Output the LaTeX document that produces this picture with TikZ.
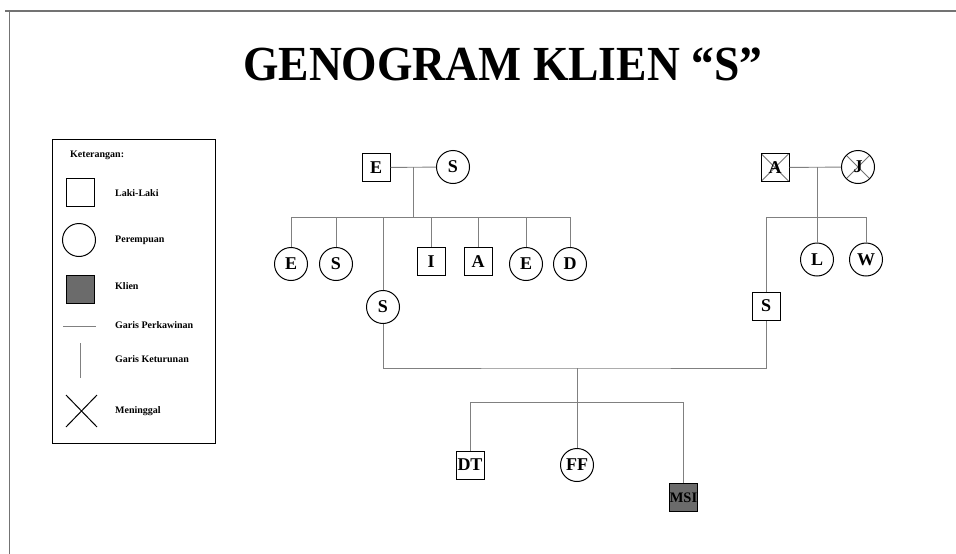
\documentclass[tikz,border=0pt]{standalone}
\usepackage{fontspec}
\setmainfont{Liberation Serif}
\usepackage{graphicx}
\begin{document}
\begin{tikzpicture}[x=1pt,y=-1pt,
  male/.style={draw=black,line width=1pt,rectangle,minimum size=28pt,inner sep=0pt,font=\fontsize{18}{18}\selectfont\bfseries},
  female/.style={draw=black,line width=1pt,circle,minimum size=33pt,inner sep=0pt,font=\fontsize{18}{18}\selectfont\bfseries},
  client/.style={male,fill=black!58},
  dead/.style={path picture={\draw[black!55,line width=0.8pt]
      (path picture bounding box.north west) -- (path picture bounding box.south east)
      (path picture bounding box.north east) -- (path picture bounding box.south west);}},
  deadc/.style={path picture={\draw[black!55,line width=0.8pt]
      ([shift={(-11.7pt,11.7pt)}]path picture bounding box.center) -- ([shift={(11.7pt,-11.7pt)}]path picture bounding box.center)
      ([shift={(11.7pt,11.7pt)}]path picture bounding box.center) -- ([shift={(-11.7pt,-11.7pt)}]path picture bounding box.center);}},
  conn/.style={draw=black!50,line width=0.9pt},
  lbl/.style={anchor=west,inner sep=0pt,font=\fontsize{10}{10}\selectfont\bfseries},
]
\useasboundingbox (0,0) rectangle (956,554);
\fill[white] (0,0) rectangle (956,554);
% frame
\draw[black!55,line width=2pt] (5,11) -- (956,11);
\draw[black!55,line width=1.6pt] (9.5,11) -- (9.5,554);

% title
\node[anchor=base west,inner sep=0pt,font=\fontsize{49}{49}\selectfont\bfseries] (title) at (243,80) {\scalebox{0.93}[1]{GENOGRAM KLIEN “S”}};

% legend
\node[draw=black,line width=1pt,minimum width=163pt,minimum height=304pt,inner sep=0pt] (legend) at (133.5,291) {};
\node[lbl] (kt) at (70,155) {Keterangan:};
\node[male] (lm) at (80,192) {};
\node[lbl] (lmt) at (115,193) {Laki-Laki};
\node[female] (lf) at (79,240) {};
\node[lbl] (lft) at (115,240) {Perempuan};
\node[client] (lc) at (80,289.5) {};
\node[lbl] (lct) at (115,286) {Klien};
\coordinate (lh1) at (63,326); \coordinate (lh2) at (96,326);
\draw[conn] (lh1) -- (lh2);
\node[lbl] (lht) at (115,325) {Garis Perkawinan};
\coordinate (lv1) at (80,343); \coordinate (lv2) at (80,378);
\draw[conn] (lv1) -- (lv2);
\node[lbl] (lvt) at (115,359) {Garis Keturunan};
\coordinate (lx1) at (66,395); \coordinate (lx2) at (97,427);
\coordinate (lx3) at (66,427); \coordinate (lx4) at (97,395);
\draw[black,line width=1pt] (lx1) -- (lx2) (lx3) -- (lx4);
\node[lbl] (lxt) at (115,411) {Meninggal};

% left grandparents
\node[male] (gE) at (376,167.5) {E};
\node[female] (gS) at (453,167) {S};
\coordinate (m1) at (413,167);
\coordinate (j1) at (413,217);
\draw[conn] (gE) -- (gS);
\draw[conn] (m1) -- (j1);
\node[female] (c1) at (291,264) {E};
\node[female] (c2) at (336,264) {S};
\node[female] (mS) at (383,307) {S};
\node[male] (c4) at (431,261.5) {I};
\node[male] (c5) at (478,261.5) {A};
\node[female] (c6) at (526,264) {E};
\node[female] (c7) at (570,264) {D};
\foreach \c in {c1,c2,mS,c4,c5,c6,c7} \draw[conn] (j1) -| (\c.north);

% right grandparents
\node[male,dead] (gA) at (775,167.5) {A};
\node[female,deadc] (gJ) at (858,167) {J};
\coordinate (m2) at (817,167);
\coordinate (j2) at (817,217);
\draw[conn] (gA) -- (gJ);
\draw[conn] (m2) -- (j2);
\node[female] (cL) at (817,259.5) {L};
\node[female] (cW) at (866,259.5) {W};
\node[male] (fS) at (766,306) {S};
\foreach \c in {cL,cW,fS} \draw[conn] (j2) -| (\c.north);

% parents and children
\coordinate (m3) at (577,368);
\coordinate (j3) at (577,402);
\draw[conn] (mS.south) |- (m3) -| (fS.south);
\node[male] (dt) at (470,465) {DT};
\node[female] (ff) at (577,465) {FF};
\node[client,font=\fontsize{14.5}{14.5}\selectfont\bfseries] (msi) at (683.5,497.5) {MSI};
\draw[conn] (m3) -- (ff.north);
\draw[conn] (j3) -| (dt.north);
\draw[conn] (j3) -| (msi.north);
\end{tikzpicture}
\end{document}
